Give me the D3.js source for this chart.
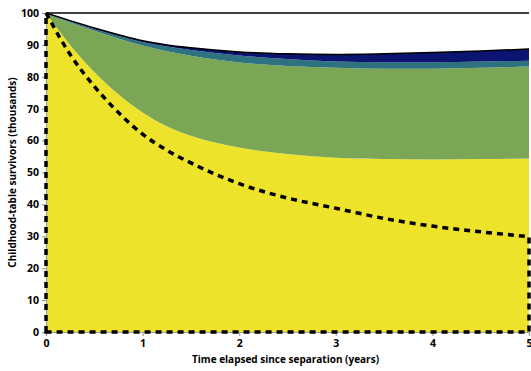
<!DOCTYPE html>
<html>
<head>
<meta charset="utf-8">
<script src="https://cdn.jsdelivr.net/npm/d3@7"></script>
<style>
  body { margin: 0; background: #fff; }
  text { font-family: "Open Sans", sans-serif; font-weight: bold; fill: #000; }
</style>
</head>
<body>
<svg id="chart" width="531" height="371"></svg>
<script>
// years since separation
const years = [0, 0.25, 0.5, 0.75, 1, 1.25, 1.5, 2, 2.5, 3, 3.5, 4, 4.5, 5];

// cumulative survivors (thousands), upper edge of each stacked band
const yellowTop = [100, 90, 81.5, 74.5, 68.8, 64.5, 61.5, 57.8, 55.8, 54.6, 54.2, 54.1, 54.2, 54.4];
const greenTop  = [100, 97.0, 94.4, 92.0, 89.8, 88.0, 86.6, 84.5, 83.4, 82.8, 82.5, 82.5, 82.8, 83.2];
const tealTop   = [100, 97.4, 95.0, 92.9, 90.9, 89.5, 88.4, 86.7, 85.6, 84.8, 84.6, 84.6, 84.8, 85.0];
const navyTop   = [100, 97.6, 95.3, 93.2, 91.3, 90.0, 89.1, 87.8, 87.2, 87.0, 87.2, 87.6, 88.1, 88.7];

// dashed reference curve
const dashed = [100, 87, 77, 68.8, 62, 57, 53, 46.5, 42, 38.8, 35.6, 33.2, 31.4, 29.9];

const xTicks = [0, 1, 2, 3, 4, 5];
const yTicks = [0, 10, 20, 30, 40, 50, 60, 70, 80, 90, 100];

const svg = d3.select("#chart");

const x = d3.scaleLinear().domain([0, 5]).range([46, 529]);
const y = d3.scaleLinear().domain([0, 100]).range([332, 13]);

const bands = [
  { lo: null, hi: yellowTop, color: "#ede32b" },
  { lo: yellowTop, hi: greenTop, color: "#7ba656" },
  { lo: greenTop, hi: tealTop, color: "#2e7280" },
  { lo: tealTop, hi: navyTop, color: "#0b1470" }
];

bands.forEach(b => {
  const area = d3.area()
    .x((d, i) => x(years[i]))
    .y0((d, i) => b.lo ? y(b.lo[i]) : y(0))
    .y1((d, i) => y(b.hi[i]))
    .curve(d3.curveMonotoneX);
  svg.append("path")
    .attr("d", area(years))
    .attr("fill", b.color);
});

// black edge on the top band
svg.append("path")
  .attr("d", d3.line()
    .x((d, i) => x(years[i]))
    .y((d, i) => y(navyTop[i]))
    .curve(d3.curveMonotoneX)(years))
  .attr("fill", "none")
  .attr("stroke", "#000")
  .attr("stroke-width", 1.5);

// line at 100
svg.append("line")
  .attr("x1", x(0)).attr("x2", x(5))
  .attr("y1", y(100)).attr("y2", y(100))
  .attr("stroke", "#000")
  .attr("stroke-width", 1.5);

// axes
const yAxis = svg.append("g")
  .attr("transform", `translate(${x(0)},0)`)
  .call(d3.axisLeft(y).tickValues(yTicks).tickFormat(d3.format("d")).tickSize(4).tickPadding(3));
const xAxis = svg.append("g")
  .attr("transform", `translate(0,${y(0)})`)
  .call(d3.axisBottom(x).tickValues(xTicks).tickFormat(d3.format("d")).tickSize(4).tickPadding(4));
[xAxis, yAxis].forEach(g => {
  g.selectAll("path, line").attr("stroke", "#a0a0a0").attr("stroke-width", 1.2);
  g.selectAll("text").attr("font-size", 10.5).attr("font-family", "Open Sans").attr("font-weight", "bold");
});

// dashed outline: left edge, curve, right edge, baseline
const curvePts = d3.line()
  .x((d, i) => x(years[i]))
  .y((d, i) => y(dashed[i]))
  .curve(d3.curveMonotoneX)(years);
svg.append("path")
  .attr("d", `M${x(0)},${y(0)}L${x(0)},${y(100)}` + curvePts.replace(/^M/, "L") +
    `L${x(5)},${y(0)}Z`)
  .attr("fill", "none")
  .attr("stroke", "#000")
  .attr("stroke-width", 3.5)
  .attr("stroke-dasharray", "6,5");

// axis titles
svg.append("text")
  .attr("x", (x(0) + x(5)) / 2 - 2)
  .attr("y", 363)
  .attr("text-anchor", "middle")
  .attr("font-size", 10)
  .text("Time elapsed since separation (years)");

svg.append("text")
  .attr("transform", `translate(16,${(y(0) + y(100)) / 2}) rotate(-90)`)
  .attr("text-anchor", "middle")
  .attr("font-size", 10)
  .text("Childhood-table survivors (thousands)");
</script>
</body>
</html>
